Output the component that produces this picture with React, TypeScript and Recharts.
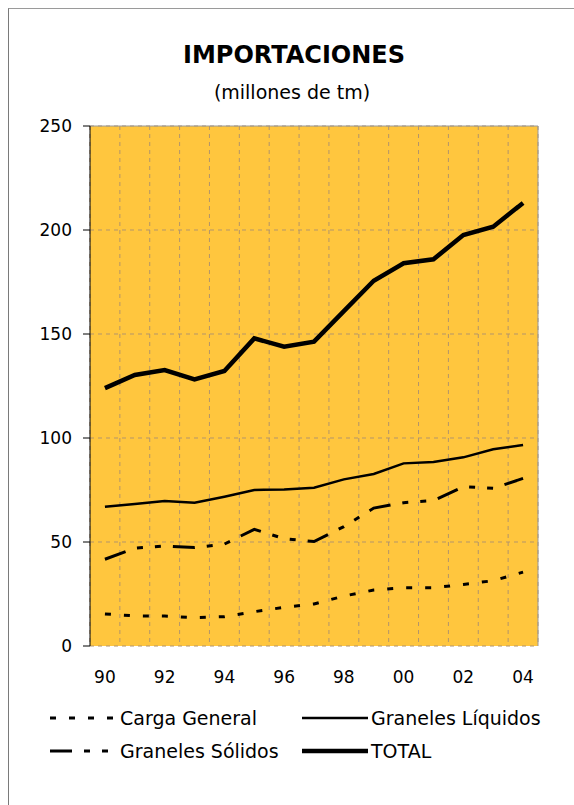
import React from "react";
import {
  LineChart,
  Line,
  XAxis,
  YAxis,
  CartesianGrid,
  ReferenceLine,
} from "recharts";

// years on the category axis, and the ones that get a label
const years = ["90", "91", "92", "93", "94", "95", "96", "97", "98", "99", "00", "01", "02", "03", "04"];
const yearLabels = ["90", "92", "94", "96", "98", "00", "02", "04"];
const yTicks = [0, 50, 100, 150, 200, 250];

// millones de tm
const cargaGeneral = [15.4, 14.5, 14.4, 13.6, 14.1, 16.5, 18.6, 20.2, 24, 26.9, 28, 28, 29.6, 31.4, 35.5];
const granelesSolidos = [41.7, 47, 48.1, 47.3, 49, 56.1, 51.6, 50.2, 57.4, 66.3, 68.9, 69.9, 76.6, 75.8, 80.6];
const granelesLiquidos = [67, 68.3, 69.7, 68.9, 71.8, 75, 75.3, 76.1, 80.1, 82.7, 87.8, 88.5, 90.7, 94.6, 96.6];
const total = [124, 130.3, 132.7, 128.2, 132.2, 147.9, 143.9, 146.3, 161, 175.6, 184, 185.9, 197.6, 201.6, 213];

const FONT = "'DejaVu Sans', sans-serif";
const BG = "#FFC63E";
const GRID = "#b3956a";

const series = [
  { key: "carga", name: "Carga General", width: 3, dash: "6 13" },
  { key: "liquidos", name: "Graneles Líquidos", width: 2.5, dash: undefined },
  { key: "solidos", name: "Graneles Sólidos", width: 3, dash: "22 12 6 12 6 12" },
  { key: "total", name: "TOTAL", width: 4.5, dash: undefined },
];

const rows = years.map((year, i) => ({
  idx: i,
  year,
  carga: cargaGeneral[i],
  solidos: granelesSolidos[i],
  liquidos: granelesLiquidos[i],
  total: total[i],
}));

// category boundaries, where Excel puts its ticks and vertical gridlines
const boundaries = [...years.map((_, i) => i - 0.5), years.length - 0.5];
const labelTicks = yearLabels.map((y) => years.indexOf(y));

function Legend() {
  const cols = [
    { lineX: 41, textX: 111 },
    { lineX: 293, textX: 362 },
  ];
  return (
    <svg
      width={556}
      height={80}
      style={{ position: "absolute", left: 0, top: 690 }}
    >
      {series.map((s, i) => {
        const col = cols[i % 2];
        const rowY = 19 + Math.floor(i / 2) * 33;
        return (
          <g key={s.key}>
            <line
              x1={col.lineX}
              x2={col.textX - (s.dash ? 0 : 3)}
              y1={rowY}
              y2={rowY}
              stroke="#000"
              strokeWidth={s.width}
              strokeDasharray={s.dash}
            />
            <text
              x={col.textX}
              y={rowY + 7}
              fontFamily={FONT}
              fontSize={19}
              fill="#000"
            >
              {s.name}
            </text>
          </g>
        );
      })}
    </svg>
  );
}

export default function App() {
  return (
    <div
      style={{
        position: "fixed",
        left: 8,
        top: 8,
        width: 566,
        height: 797,
        boxSizing: "border-box",
        borderLeft: "1px solid #7a7a7a",
        borderTop: "1px solid #9a9a9a",
        background: "#fff",
      }}
    >
      <svg width={556} height={110} style={{ position: "absolute", left: 0, top: 0 }}>
        <text x={285} y={54} textAnchor="middle" fontFamily={FONT} fontWeight="bold" fontSize={24}>
          IMPORTACIONES
        </text>
        <text x={283} y={90} textAnchor="middle" fontFamily={FONT} fontSize={19}>
          (millones de tm)
        </text>
      </svg>

      <div style={{ position: "absolute", left: 0, top: 0 }}>
        <LineChart
          width={556}
          height={787}
          data={rows}
          margin={{ top: 117, right: 27, bottom: 120, left: 0 }}
        >
          <CartesianGrid
            xAxisId="grid"
            stroke={GRID}
            strokeDasharray="4 4"
            fill={BG}
            fillOpacity={1}
          />
          <XAxis
            xAxisId="grid"
            dataKey="idx"
            type="number"
            domain={[-0.5, years.length - 0.5]}
            ticks={boundaries}
            interval={0}
            tickFormatter={() => ""}
            tickSize={8}
            height={0}
            axisLine={{ stroke: "#000" }}
            tickLine={{ stroke: "#000" }}
            tick={{ fontSize: 1 }}
          />
          <XAxis
            xAxisId="lbl"
            dataKey="idx"
            type="number"
            domain={[-0.5, years.length - 0.5]}
            ticks={labelTicks}
            interval={0}
            tickFormatter={(v) => years[v]}
            tickSize={8}
            tickMargin={17}
            height={30}
            axisLine={false}
            tickLine={false}
            tick={{ fontSize: 17, fontFamily: FONT, fill: "#000" }}
          />
          <YAxis
            domain={[0, 250]}
            ticks={yTicks}
            width={81}
            tickSize={7}
            tickMargin={11}
            axisLine={{ stroke: "#000" }}
            tickLine={{ stroke: "#000" }}
            tick={{ fontSize: 17, fontFamily: FONT, fill: "#000" }}
          />
          <ReferenceLine xAxisId="grid" y={250} stroke="#999" strokeWidth={1} />
          <ReferenceLine xAxisId="grid" x={years.length - 0.5} stroke="#999" strokeWidth={1} />
          {series.map((s) => (
            <Line
              key={s.key}
              xAxisId="lbl"
              type="linear"
              dataKey={s.key}
              name={s.name}
              stroke="#000"
              strokeWidth={s.width}
              strokeDasharray={s.dash}
              dot={false}
              activeDot={false}
              isAnimationActive={false}
            />
          ))}
        </LineChart>
      </div>

      <Legend />
    </div>
  );
}
